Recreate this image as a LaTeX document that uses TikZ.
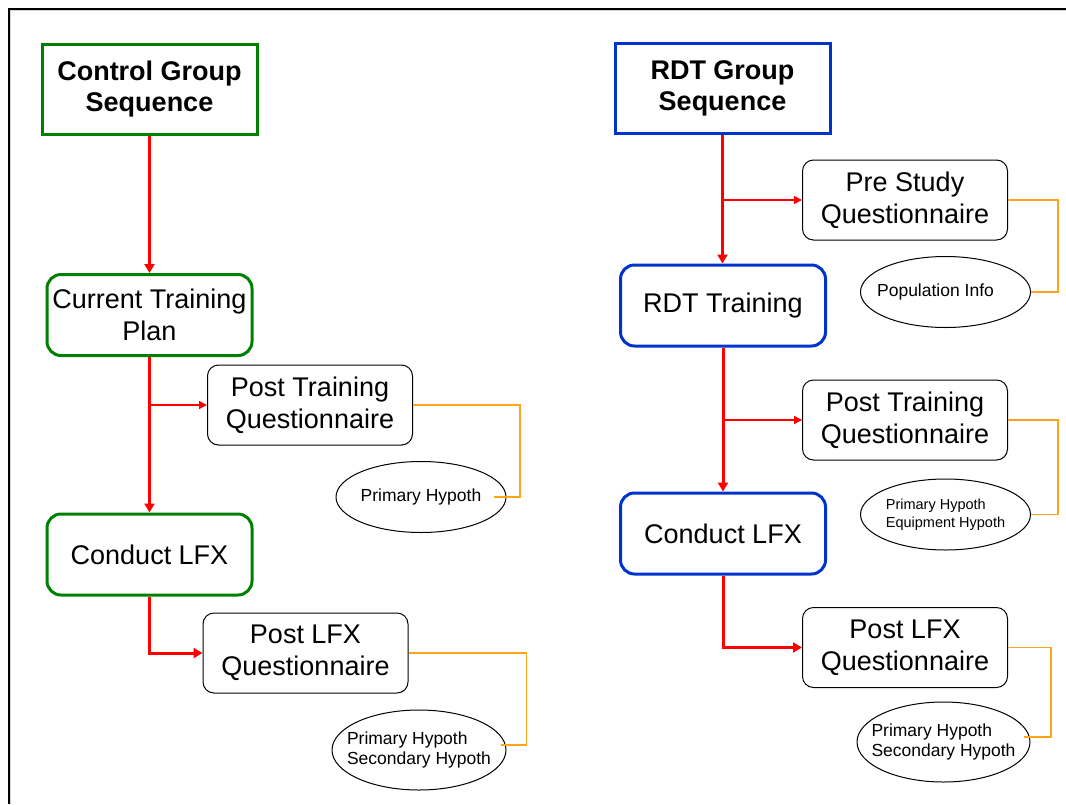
\documentclass[tikz,border=0pt]{standalone}
\usepackage{fontspec}
\setmainfont{Liberation Sans}
\usepackage{xcolor}
\usepackage{tikz}
\usetikzlibrary{shapes.geometric,arrows.meta}

\definecolor{ctrlGreen}{RGB}{0,128,0}
\definecolor{rdtBlue}{RGB}{0,51,204}
\definecolor{linkOrange}{RGB}{255,163,26}

\tikzstyle{tsBigText} = [
    text=black,
    font=\fontsize{27}{32}\selectfont
]
\tikzstyle{tsTitle} = [
    rectangle,
    text=black,
    font=\bfseries\fontsize{27}{31}\selectfont,
    align=center,
    line width=3pt,
    minimum width=215pt,
    minimum height=90pt,
    inner sep=0pt]
\tikzstyle{tsStep} = [
    rectangle,
    rounded corners=14pt,
    tsBigText,
    align=center,
    line width=3pt,
    minimum width=205pt,
    minimum height=81pt,
    inner sep=0pt]
\tikzstyle{tsQuest} = [
    rectangle,
    rounded corners=11pt,
    draw=black,
    line width=1pt,
    tsBigText,
    align=center,
    minimum width=205pt,
    minimum height=80pt,
    inner sep=0pt]
\tikzstyle{tsBubble} = [
    ellipse,
    draw=black,
    line width=1pt,
    minimum width=170pt,
    minimum height=71pt,
    inner xsep=-30pt,
    inner ysep=0pt,
    text=black,
    font=\fontsize{17.5}{20.5}\selectfont,
    align=left]
\tikzstyle{tsMainArrow} = [
    draw=red,
    line width=3pt,
    -{Triangle[length=9pt,width=10pt]}]
\tikzstyle{tsBranchArrow} = [
    draw=red,
    line width=1.5pt,
    -{Triangle[length=8pt,width=8pt]}]
\tikzstyle{tsLink} = [
    draw=linkOrange,
    line width=1.4pt]

\begin{document}
\begin{tikzpicture}[x=1pt, y=-1pt]

        \useasboundingbox (0,0) rectangle (1066,804);

        % Frame (top and left edges only)
        \draw[gray!35, line width=1pt] (10.8,804) -- (10.8,10.8) -- (1066,10.8);
        \draw[line width=1.5pt] (9,804) -- (9,9);
        \draw[line width=2.5pt] (8.25,9) -- (1066,9);

        % Control group column
        \node[tsTitle, draw=ctrlGreen] (cgs) at (149.5,89) {Control Group\\Sequence};
        \node[tsStep, draw=ctrlGreen] (ctp) at (149.5,315) {Current Training\\Plan};
        \node[tsQuest] (ptqC) at (310,405) {Post Training\\Questionnaire};
        \node[tsBubble] (phC) at (421,497) {Primary Hypoth};
        \node[tsStep, draw=ctrlGreen] (clfxC) at (149.5,554.5) {Conduct LFX};
        \node[tsQuest] (plqC) at (305.5,653) {Post LFX\\Questionnaire};
        \node[tsBubble, minimum width=174pt, minimum height=80pt] (shC) at (419,750)
            {Primary Hypoth\\Secondary Hypoth};

        % RDT group column
        \node[tsTitle, draw=rdtBlue] (rgs) at (722.5,88.5) {RDT Group\\Sequence};
        \node[tsQuest] (psq) at (905,200) {Pre Study\\Questionnaire};
        \node[tsBubble] (pop) at (945.5,292) {Population Info\hspace*{20pt}};
        \node[tsStep, draw=rdtBlue] (rtr) at (723,305.5) {RDT Training};
        \node[tsQuest] (ptqR) at (905,420) {Post Training\\Questionnaire};
        \node[tsBubble, font=\fontsize{14.5}{17.5}\selectfont] (ehR) at (945.5,514.5)
            {Primary Hypoth\\Equipment Hypoth};
        \node[tsStep, draw=rdtBlue] (rlfx) at (723,533.5) {Conduct LFX};
        \node[tsQuest] (plqR) at (905,647.5) {Post LFX\\Questionnaire};
        \node[tsBubble, minimum width=173pt, minimum height=80pt] (shR) at (943.5,742)
            {Primary Hypoth\\Secondary Hypoth};

        % Sequence arrows
        \draw[tsMainArrow] (cgs.south) -- (ctp.north);
        \draw[tsMainArrow] (ctp.south) -- (clfxC.north);
        \draw[tsBranchArrow] (ctp.south |- ptqC.west) -- (ptqC.west);
        \draw[tsMainArrow] (clfxC.south) |- (plqC.west);

        \draw[tsMainArrow] (rgs.south) -- (rgs.south |- rtr.north);
        \draw[tsBranchArrow] (rgs.south |- psq.west) -- (psq.west);
        \draw[tsMainArrow] (rtr.south) -- (rlfx.north);
        \draw[tsBranchArrow] (rtr.south |- ptqR.west) -- (ptqR.west);
        \draw[tsMainArrow] (rlfx.south) |- (plqR.west);

        % Questionnaire to hypothesis links
        \draw[tsLink] (ptqC.east) -- ++(107,0) |- ([xshift=-13pt]phC.east);
        \draw[tsLink] (plqC.east) -- ++(118,0) |- ([xshift=-6pt,yshift=5pt]shC.east);
        \draw[tsLink] (psq.east) -- ++(50,0) |- (pop.east);
        \draw[tsLink] (ptqR.east) -- ++(50,0) |- (ehR.east);
        \draw[tsLink] (plqR.east) -- ++(43,0) |- ([xshift=-7pt,yshift=5pt]shR.east);

\end{tikzpicture}
\end{document}
